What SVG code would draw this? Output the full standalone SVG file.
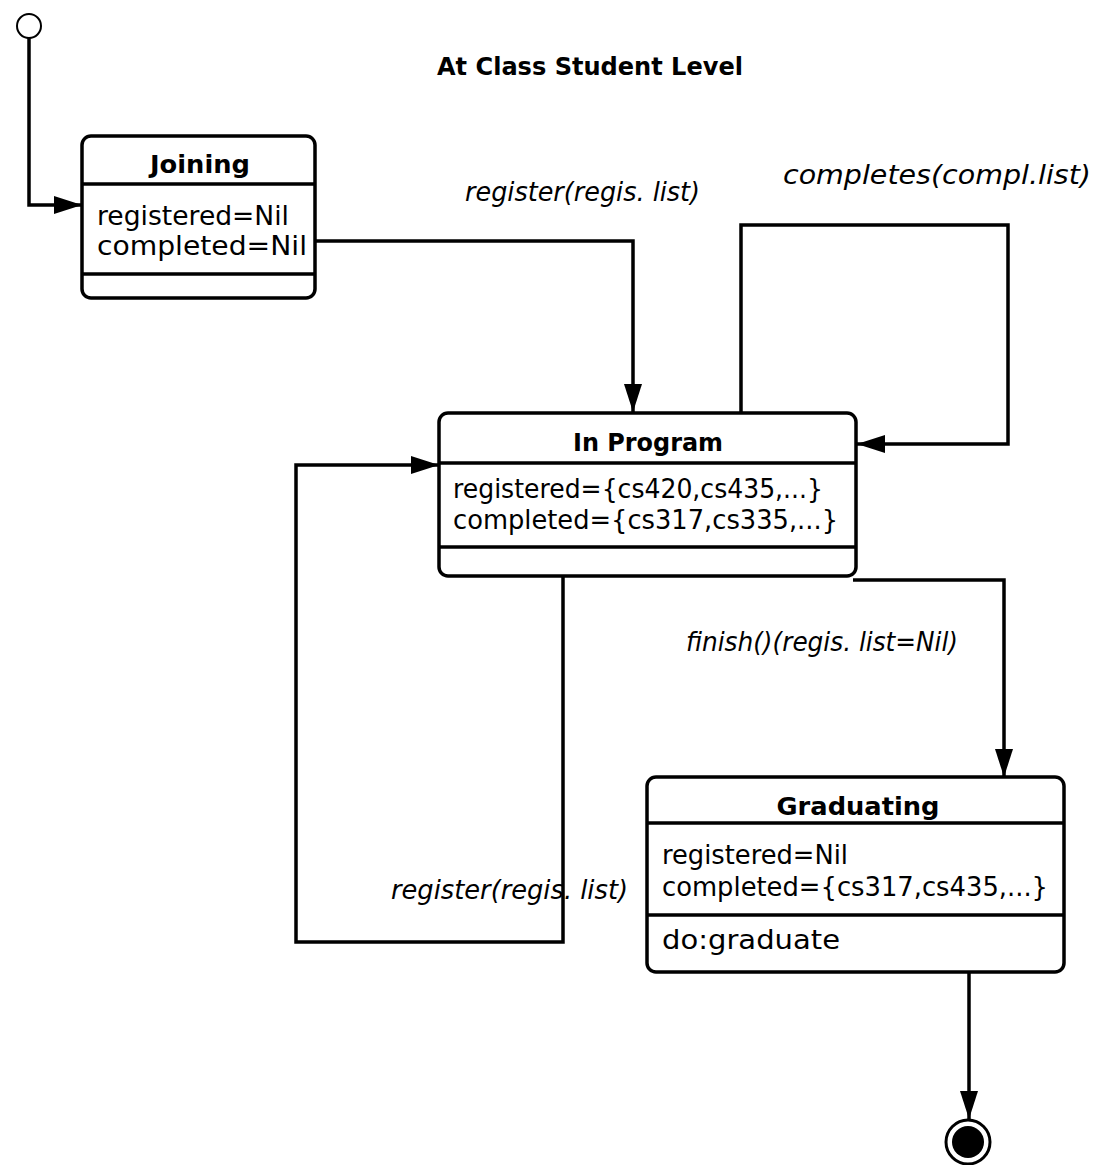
<svg xmlns="http://www.w3.org/2000/svg" width="1102" height="1165" viewBox="0 0 1102 1165">
  <style>
    .box { fill: #fff; stroke: #000; stroke-width: 3.5; }
    .div { stroke: #000; stroke-width: 3.5; }
    .edge { fill: none; stroke: #000; stroke-width: 3.5; stroke-linejoin: miter; }
    .head { font-family: "DejaVu Sans", "Liberation Sans", sans-serif; font-weight: bold; font-size: 25px; fill: #000; text-anchor: middle; }
    .attr { font-family: "DejaVu Sans", "Liberation Sans", sans-serif; font-size: 26px; fill: #000; }
    .lbl { font-family: "DejaVu Sans", "Liberation Sans", sans-serif; font-style: italic; font-size: 26px; fill: #000; }
    .title { font-family: "DejaVu Sans", "Liberation Sans", sans-serif; font-weight: bold; font-size: 25px; fill: #000; }
  </style>
  <defs>
    <marker id="arrow" viewBox="0 0 28 18" refX="28" refY="9" markerWidth="28" markerHeight="18" markerUnits="userSpaceOnUse" orient="auto">
      <path d="M0,0 L28,9 L0,18 Z" fill="#000"/>
    </marker>
  </defs>

  <rect width="1102" height="1165" fill="#fff"/>

  <text class="title" x="437" y="75" textLength="306" lengthAdjust="spacingAndGlyphs">At Class Student Level</text>

  <!-- initial pseudo-state -->
  <g id="initial">
    <circle cx="29" cy="26" r="12" fill="#fff" stroke="#000" stroke-width="2"/>
  </g>

  <!-- state: Joining -->
  <g id="joining">
    <rect class="box" x="82" y="136" width="233" height="162" rx="9"/>
    <line class="div" x1="82" y1="184" x2="315" y2="184"/>
    <line class="div" x1="82" y1="274" x2="315" y2="274"/>
    <text class="head" x="200" y="173" textLength="100" lengthAdjust="spacingAndGlyphs">Joining</text>
    <text class="attr" x="97" y="225" textLength="192" lengthAdjust="spacingAndGlyphs">registered=Nil</text>
    <text class="attr" x="97" y="255" textLength="210" lengthAdjust="spacingAndGlyphs">completed=Nil</text>
  </g>

  <!-- state: In Program -->
  <g id="in-program">
    <rect class="box" x="439" y="413" width="417" height="163" rx="9"/>
    <line class="div" x1="439" y1="463" x2="856" y2="463"/>
    <line class="div" x1="439" y1="547" x2="856" y2="547"/>
    <text class="head" x="648" y="451" textLength="150" lengthAdjust="spacingAndGlyphs">In Program</text>
    <text class="attr" x="453" y="498" textLength="370" lengthAdjust="spacingAndGlyphs">registered={cs420,cs435,...}</text>
    <text class="attr" x="453" y="529" textLength="385" lengthAdjust="spacingAndGlyphs">completed={cs317,cs335,...}</text>
  </g>

  <!-- state: Graduating -->
  <g id="graduating">
    <rect class="box" x="647" y="777" width="417" height="195" rx="9"/>
    <line class="div" x1="647" y1="823" x2="1064" y2="823"/>
    <line class="div" x1="647" y1="915" x2="1064" y2="915"/>
    <text class="head" x="858" y="815" textLength="163" lengthAdjust="spacingAndGlyphs">Graduating</text>
    <text class="attr" x="662" y="864" textLength="186" lengthAdjust="spacingAndGlyphs">registered=Nil</text>
    <text class="attr" x="662" y="896" textLength="386" lengthAdjust="spacingAndGlyphs">completed={cs317,cs435,...}</text>
    <text class="attr" x="662" y="949" textLength="178" lengthAdjust="spacingAndGlyphs">do:graduate</text>
  </g>

  <!-- final pseudo-state -->
  <g id="final">
    <circle cx="968" cy="1142" r="22" fill="#fff" stroke="#000" stroke-width="3"/>
    <circle cx="968" cy="1142" r="16" fill="#000"/>
  </g>

  <!-- transitions -->
  <g id="connectors">
    <polyline class="edge" points="29,38 29,205 82,205" marker-end="url(#arrow)"/>
    <polyline class="edge" points="315,241 633,241 633,412" marker-end="url(#arrow)"/>
    <polyline class="edge" points="741,412 741,225 1008,225 1008,444 857,444" marker-end="url(#arrow)"/>
    <polyline class="edge" points="563,576 563,942 296,942 296,465 439,465" marker-end="url(#arrow)"/>
    <polyline class="edge" points="853,580 1004,580 1004,777" marker-end="url(#arrow)"/>
    <polyline class="edge" points="969,972 969,1119" marker-end="url(#arrow)"/>
  </g>

  <!-- transition labels -->
  <g id="labels">
    <text class="lbl" x="465" y="201" textLength="235" lengthAdjust="spacingAndGlyphs">register(regis. list)</text>
    <text class="lbl" x="783" y="184" textLength="308" lengthAdjust="spacingAndGlyphs">completes(compl.list)</text>
    <text class="lbl" x="686" y="651" textLength="272" lengthAdjust="spacingAndGlyphs">finish()(regis. list=Nil)</text>
    <text class="lbl" x="391" y="899" textLength="237" lengthAdjust="spacingAndGlyphs">register(regis. list)</text>
  </g>
</svg>
